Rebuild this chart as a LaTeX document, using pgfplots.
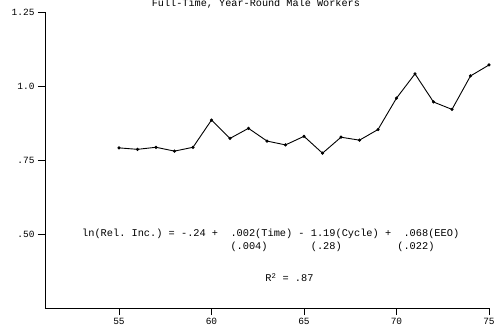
\documentclass[border=0pt]{standalone}
\usepackage{pgfplots}
\pgfplotsset{compat=1.18}
\usepackage{fontspec}
\setmainfont{Liberation Mono}
\setmonofont{Liberation Mono}
\begin{document}
\frenchspacing
\begin{tikzpicture}
\useasboundingbox (-45pt,-22pt) rectangle (459pt,308pt);
\begin{axis}[
  scale only axis,
  width=444pt, height=296pt,
  xmin=51, xmax=75, ymin=0.25, ymax=1.25,
  axis lines*=left,
  axis line style={line width=0.9pt},
  tick align=outside,
  major tick length=7pt,
  tick style={line width=0.9pt, black},
  xtick={55,60,65,70,75},
  xticklabels={55,60,65,70,75},
  ytick={0.5,0.75,1.0,1.25},
  yticklabels={.50,.75,1.0,1.25},
  ticklabel style={font=\ttfamily\fontsize{9.5}{11}\selectfont},
  clip=false,
]
\addplot[black, line width=0.9pt, mark=*, mark size=1.1pt] coordinates {
(55,0.791) (56,0.786) (57,0.793) (58,0.780) (59,0.793) (60,0.885)
(61,0.823) (62,0.857) (63,0.814) (64,0.801) (65,0.830) (66,0.773)
(67,0.827) (68,0.817) (69,0.853) (70,0.959) (71,1.041) (72,0.946)
(73,0.921) (74,1.034) (75,1.071)
};
\node[anchor=base, font=\ttfamily\fontsize{10.2}{12}\selectfont, inner sep=0pt] at (axis cs:62.4,1.267) {Full-Time, Year-Round Male Workers};
\node[anchor=base west, align=left, font=\ttfamily\fontsize{10.3}{13}\selectfont, inner sep=0pt] at (axis cs:53.0,0.447)
 {ln(Rel. Inc.) = -.24 +~~.002(Time) - 1.19(Cycle) +~~.068(EEO)\\
  \hspace*{14.4em}(.004)\hspace*{4.2em}(.28)\hspace*{5.4em}(.022)};
\node[anchor=base west, font=\ttfamily\fontsize{10.3}{12}\selectfont, inner sep=0pt] at (axis cs:62.9,0.339) {R\textsuperscript{2} = .87};
\end{axis}
\end{tikzpicture}
\end{document}
